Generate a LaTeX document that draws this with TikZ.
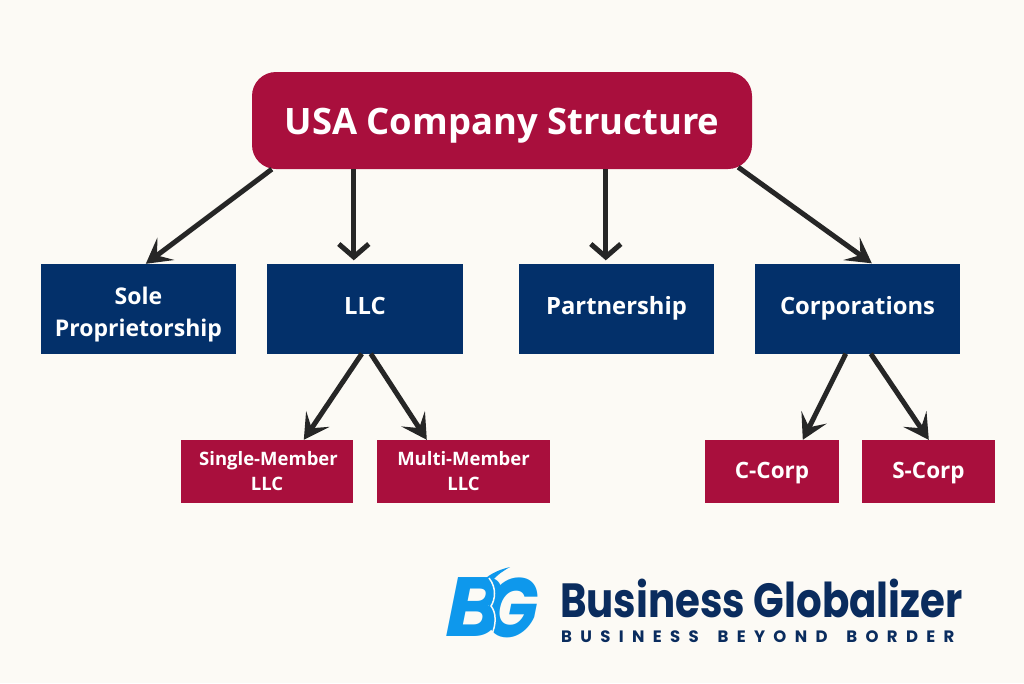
\documentclass[tikz,border=0pt]{standalone}
\usepackage{fontspec}
\usetikzlibrary{arrows.meta}
\setmainfont{Open Sans}
\newfontfamily\logofont{Poppins}
\newfontfamily\tagfont{Poppins}[LetterSpace=50.5,WordSpace=1.6]
\definecolor{bgc}{HTML}{FCFAF5}
\definecolor{crim}{HTML}{A90F3D}
\definecolor{navy}{HTML}{03306A}
\definecolor{arr}{HTML}{262626}
\definecolor{logob}{HTML}{0E98EC}
\definecolor{logon}{HTML}{0A2C5E}
\tikzset{
  x=1pt,y=-1pt,
  topbox/.style={fill=crim,rounded corners=24pt,inner sep=0pt,minimum width=500pt,minimum height=97pt,text=white,text height=27pt,text depth=0pt,font=\bfseries\fontsize{36.4}{40}\selectfont},
  midbox/.style={fill=navy,inner sep=0pt,minimum height=90pt,text=white,align=center,font=\bfseries\fontsize{23.8}{32}\selectfont},
  midtwo/.style={midbox,font=\bfseries\fontsize{23}{32}\selectfont},
  midone/.style={midbox,text height=17pt,text depth=5pt},
  subbox/.style={fill=crim,inner sep=0pt,minimum height=63pt,text=white,align=center,font=\bfseries\fontsize{18.5}{25}\selectfont},
  subone/.style={subbox,text height=17pt,text depth=3pt,font=\bfseries\fontsize{22.5}{25}\selectfont},
  link/.style={draw=arr,line width=5pt,-{Stealth[length=25pt,width=28pt,inset=11pt]}},
  linkv/.style={draw=arr,line width=5pt,-{Straight Barb[length=13pt,width=30pt,line width=5pt]}},
}
\begin{document}
\begin{tikzpicture}
\path[use as bounding box,fill=bgc] (0,0) rectangle (1024,683);
\node[topbox] (top) at (502,120.5) {USA Company Structure};
\node[midtwo,minimum width=195pt] (sole) at (138.5,309) {\rule{0pt}{29pt}Sole\\Proprietorship};
\node[midone,minimum width=196pt] (llc) at (365,308.5) {LLC};
\node[midone,minimum width=195pt] (part) at (616.5,308.5) {Partnership};
\node[midone,minimum width=205pt] (corp) at (857.5,308.5) {Corporations};
\node[subbox,minimum width=172pt] (single) at (267,471.5) {\hspace*{3pt}Single-Member\\LLC};
\node[subbox,minimum width=173pt] (multi) at (463.5,471.5) {Multi-Member\\LLC};
\node[subone,minimum width=134pt] (ccorp) at (772,471.5) {C-Corp};
\node[subone,minimum width=133pt] (scorp) at (928.5,471.5) {S-Corp};
\draw[link] ([xshift=20pt]top.south west) -- ([xshift=105pt]sole.north west);
\draw[linkv] ([xshift=102pt]top.south west) -- ([xshift=87pt,yshift=3pt]llc.north west);
\draw[linkv] ([xshift=354pt]top.south west) -- ([xshift=87pt,yshift=3pt]part.north west);
\draw[link] ([xshift=-14pt,yshift=2pt]top.south east) -- ([xshift=117pt]corp.north west);
\draw[link] ([xshift=95pt]llc.south west) -- ([xshift=123pt]single.north west);
\draw[link] ([xshift=104pt]llc.south west) -- ([xshift=50pt]multi.north west);
\draw[link] ([xshift=91pt]corp.south west) -- ([xshift=98pt]ccorp.north west);
\draw[link] ([xshift=116pt]corp.south west) -- ([xshift=67pt]scorp.north west);
% logo
\node[transform shape,xslant=.2,text=logob,font=\logofont\bfseries\fontsize{84}{84}\selectfont,inner sep=0pt] (bgb) at (475,607) {B};
\node[transform shape,xslant=.2,text=logob,font=\logofont\bfseries\fontsize{84}{84}\selectfont,inner sep=0pt,xscale=.82] (bgg) at (513,608) {G};
\fill[logob] (486,578) .. controls (494,571) and (506,568) .. (510,567) .. controls (503,571) and (497,575) .. (493,580) -- cycle;
\draw[bgc,line width=1.5pt] (489,578) .. controls (497,588) and (495,600) .. (491,606) .. controls (496,612) and (497,624) .. (491,636);
\node[transform shape,xscale=.84,anchor=base west,inner sep=0pt,text=logon,font=\logofont\bfseries\fontsize{48}{50}\selectfont] (name) at (560,617) {Business Globalizer};
\node[anchor=base west,inner sep=0pt,text=logon,font=\tagfont\bfseries\fontsize{16.5}{18}\selectfont] (tag) at (561,642) {BUSINESS BEYOND BORDER};
\end{tikzpicture}
\end{document}
